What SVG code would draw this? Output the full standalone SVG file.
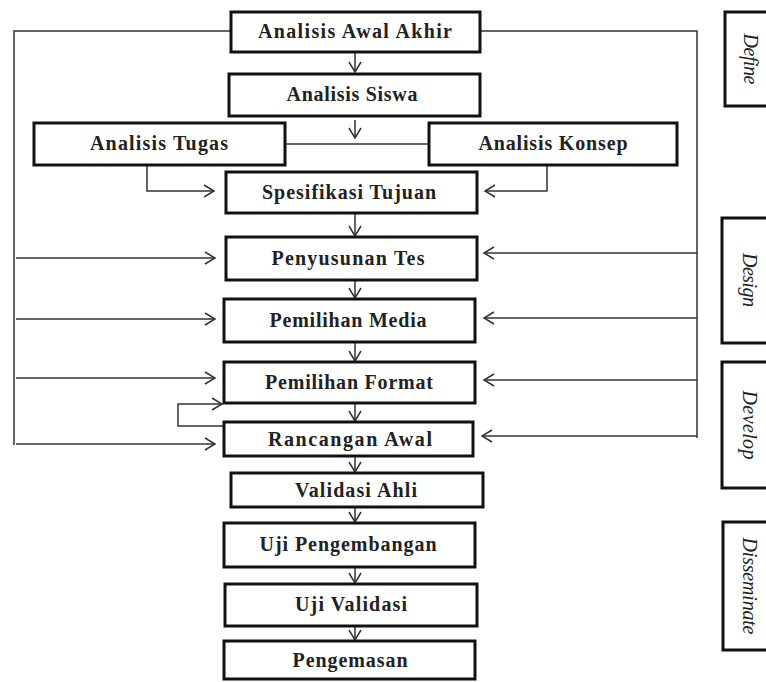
<svg xmlns="http://www.w3.org/2000/svg" width="766" height="682" viewBox="0 0 766 682">
<defs>
<marker id="ah" markerUnits="userSpaceOnUse" markerWidth="14" markerHeight="14" refX="11" refY="6" orient="auto" overflow="visible">
<path d="M1,0 L11,6 L1,12" fill="none" stroke="#333" stroke-width="1.5"/>
</marker>
</defs>
<style>
.box{fill:#fff;stroke:#111;stroke-width:3}
.lbl{font-family:"Liberation Serif","Times New Roman",serif;font-weight:bold;font-size:20px;fill:#222;text-anchor:middle}
.ph{font-family:"Liberation Serif","Times New Roman",serif;font-style:italic;font-size:20px;fill:#222;text-anchor:middle}
.c{fill:none;stroke:#333;stroke-width:1.5}
.a{marker-end:url(#ah)}
</style>
<rect width="766" height="682" fill="#fff"/>
<g id="connectors">
<path class="c" d="M231,31 H14 V445"/>
<path class="c a" d="M16,258 H215"/>
<path class="c a" d="M16,319 H215"/>
<path class="c a" d="M16,378 H215"/>
<path class="c a" d="M16,444 H215"/>
<path class="c" d="M480,31 H697 V438"/>
<path class="c a" d="M697,253 H484"/>
<path class="c a" d="M697,318 H484"/>
<path class="c a" d="M697,380 H484"/>
<path class="c a" d="M697,436 H482"/>
<path class="c a" d="M355,52 V72"/>
<path class="c a" d="M355,120 V138"/>
<path class="c" d="M285,144 H429"/>
<path class="c a" d="M147,165 V191 H214"/>
<path class="c a" d="M547,165 V191 H485"/>
<path class="c a" d="M355,213 V236"/>
<path class="c a" d="M355,280 V298"/>
<path class="c a" d="M355,342 V361"/>
<path class="c a" d="M355,403 V421"/>
<path class="c a" d="M355,456 V472"/>
<path class="c a" d="M355,507 V522"/>
<path class="c a" d="M355,567 V583"/>
<path class="c a" d="M355,626 V640"/>
<path class="c a" d="M224,426 H178 V404 H222"/>
</g>
<g id="n1"><rect class="box" x="231" y="12" width="249" height="40"/><text class="lbl" x="355" y="38" textLength="194" lengthAdjust="spacing">Analisis Awal Akhir</text></g>
<g id="n2"><rect class="box" x="229" y="74" width="251" height="42"/><text class="lbl" x="352" y="101" textLength="131" lengthAdjust="spacing">Analisis Siswa</text></g>
<g id="n3"><rect class="box" x="34" y="123" width="251" height="42"/><text class="lbl" x="159" y="150" textLength="138" lengthAdjust="spacing">Analisis Tugas</text></g>
<g id="n4"><rect class="box" x="429" y="123" width="248" height="42"/><text class="lbl" x="553" y="150" textLength="149" lengthAdjust="spacing">Analisis Konsep</text></g>
<g id="n5"><rect class="box" x="226" y="172" width="251" height="41"/><text class="lbl" x="349" y="199" textLength="174" lengthAdjust="spacing">Spesifikasi Tujuan</text></g>
<g id="n6"><rect class="box" x="226" y="237" width="251" height="43"/><text class="lbl" x="348" y="265" textLength="153" lengthAdjust="spacing">Penyusunan Tes</text></g>
<g id="n7"><rect class="box" x="224" y="299" width="251" height="43"/><text class="lbl" x="348" y="327" textLength="157" lengthAdjust="spacing">Pemilihan Media</text></g>
<g id="n8"><rect class="box" x="224" y="362" width="251" height="41"/><text class="lbl" x="349" y="389" textLength="168" lengthAdjust="spacing">Pemilihan Format</text></g>
<g id="n9"><rect class="box" x="224" y="422" width="249" height="34"/><text class="lbl" x="350" y="446" textLength="164" lengthAdjust="spacing">Rancangan Awal</text></g>
<g id="n10"><rect class="box" x="231" y="473" width="252" height="34"/><text class="lbl" x="356" y="497" textLength="122" lengthAdjust="spacing">Validasi Ahli</text></g>
<g id="n11"><rect class="box" x="224" y="523" width="251" height="44"/><text class="lbl" x="348" y="551" textLength="177" lengthAdjust="spacing">Uji Pengembangan</text></g>
<g id="n12"><rect class="box" x="225" y="584" width="252" height="42"/><text class="lbl" x="351" y="611" textLength="112" lengthAdjust="spacing">Uji Validasi</text></g>
<g id="n13"><rect class="box" x="224" y="641" width="251" height="38"/><text class="lbl" x="350" y="667" textLength="115" lengthAdjust="spacing">Pengemasan</text></g>
<g id="define"><rect class="box" x="725" y="12" width="50" height="94"/><text class="ph" transform="translate(744,59) rotate(90)" textLength="51" lengthAdjust="spacing">Define</text></g>
<g id="design"><rect class="box" x="722" y="218" width="50" height="125"/><text class="ph" transform="translate(743,280) rotate(90)" textLength="54" lengthAdjust="spacing">Design</text></g>
<g id="develop"><rect class="box" x="722" y="362" width="50" height="126"/><text class="ph" transform="translate(743,425) rotate(90)" textLength="69" lengthAdjust="spacing">Develop</text></g>
<g id="disseminate"><rect class="box" x="723" y="522" width="50" height="128"/><text class="ph" transform="translate(743,586) rotate(90)" textLength="97" lengthAdjust="spacing">Disseminate</text></g>
</svg>
